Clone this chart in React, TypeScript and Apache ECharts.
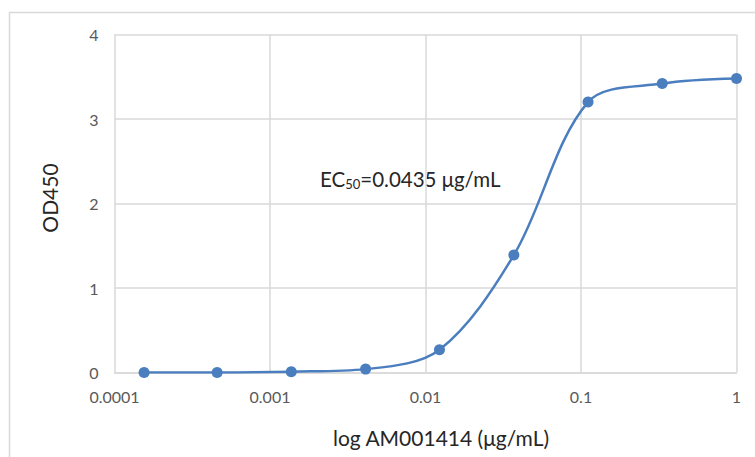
import React, { useEffect, useRef } from 'react';
import * as echarts from 'echarts';

const concentrations = [0.000155, 0.000457, 0.00137, 0.00412, 0.0123, 0.037, 0.111, 0.333, 1];
const od450 = [0.0, 0.0, 0.01, 0.04, 0.27, 1.39, 3.2, 3.42, 3.48];
const xTickLabels = ['0.0001', '0.001', '0.01', '0.1', '1'];
const yMin = 0;
const yMax = 4;
const xTitle = 'log AM001414 (μg/mL)';
const yTitle = 'OD450';
const ec50Label = ['EC', '50', '=0.0435 μg/mL'];

const FONT = 'Lato, "Open Sans", sans-serif';

export default function App() {
  const ref = useRef<HTMLDivElement>(null);
  useEffect(() => {
    if (!ref.current) return;
    const chart = echarts.init(ref.current, null, { renderer: 'svg' });
    const data = concentrations.map((c, i) => [c, od450[i]]);
    chart.setOption({
      animation: false,
      backgroundColor: '#ffffff',
      textStyle: { fontFamily: FONT },
      grid: { left: 114.5, top: 34.5, right: 18.5, bottom: 84.5 },
      xAxis: {
        type: 'log',
        logBase: 10,
        min: 0.0001,
        max: 1,
        axisLine: { show: true, lineStyle: { color: '#d9d9d9', width: 1.5 } },
        axisTick: { show: false },
        minorTick: { show: false },
        axisLabel: {
          color: '#595959',
          fontSize: 16,
          margin: 16,
          fontFamily: FONT,
          formatter: (v: number) => xTickLabels[Math.round(Math.log10(v)) + 4] ?? '',
        },
        splitLine: { show: true, lineStyle: { color: '#d9d9d9', width: 1.5 } },
      },
      yAxis: {
        type: 'value',
        min: yMin,
        max: yMax,
        interval: 1,
        axisLine: { show: false },
        axisTick: { show: false },
        axisLabel: { color: '#595959', fontSize: 16, margin: 16, fontFamily: FONT },
        splitLine: { show: true, lineStyle: { color: '#d9d9d9', width: 1.5 } },
      },
      graphic: [
        {
          type: 'rect',
          shape: { x: 9.5, y: 12.5, width: 800, height: 500 },
          style: { fill: 'none', stroke: '#d9d9d9', lineWidth: 1.5 },
          silent: true,
        },
        {
          type: 'text',
          x: 441,
          y: 437,
          style: {
            text: xTitle,
            align: 'center',
            verticalAlign: 'middle',
            fontSize: 21,
            fontFamily: FONT,
            fill: '#262626',
          },
        },
        {
          type: 'text',
          x: 49,
          y: 198,
          rotation: Math.PI / 2,
          style: {
            text: yTitle,
            align: 'center',
            verticalAlign: 'middle',
            fontSize: 21,
            fontFamily: FONT,
            fill: '#262626',
          },
        },
        {
          type: 'text',
          x: 320,
          y: 179,
          style: {
            text: `{n|${ec50Label[0]}}{s|${ec50Label[1]}}{n|${ec50Label[2]}}`,
            verticalAlign: 'middle',
            align: 'left',
            rich: {
              n: { fontSize: 20.5, fontFamily: FONT, fill: '#262626' },
              s: { fontSize: 13, fontFamily: FONT, fill: '#262626', padding: [9, 0, 0, 0] },
            },
          },
        },
      ],
      series: [
        {
          type: 'line',
          data,
          smooth: 0.33,
          symbol: 'circle',
          symbolSize: 11,
          itemStyle: { color: '#4a7ebf' },
          lineStyle: { color: '#4a7ebf', width: 2.5 },
        },
      ],
    });
    return () => chart.dispose();
  }, []);
  return (
    <div
      ref={ref}
      style={{ position: 'fixed', left: 0, top: 0, width: 755, height: 457 }}
    />
  );
}
